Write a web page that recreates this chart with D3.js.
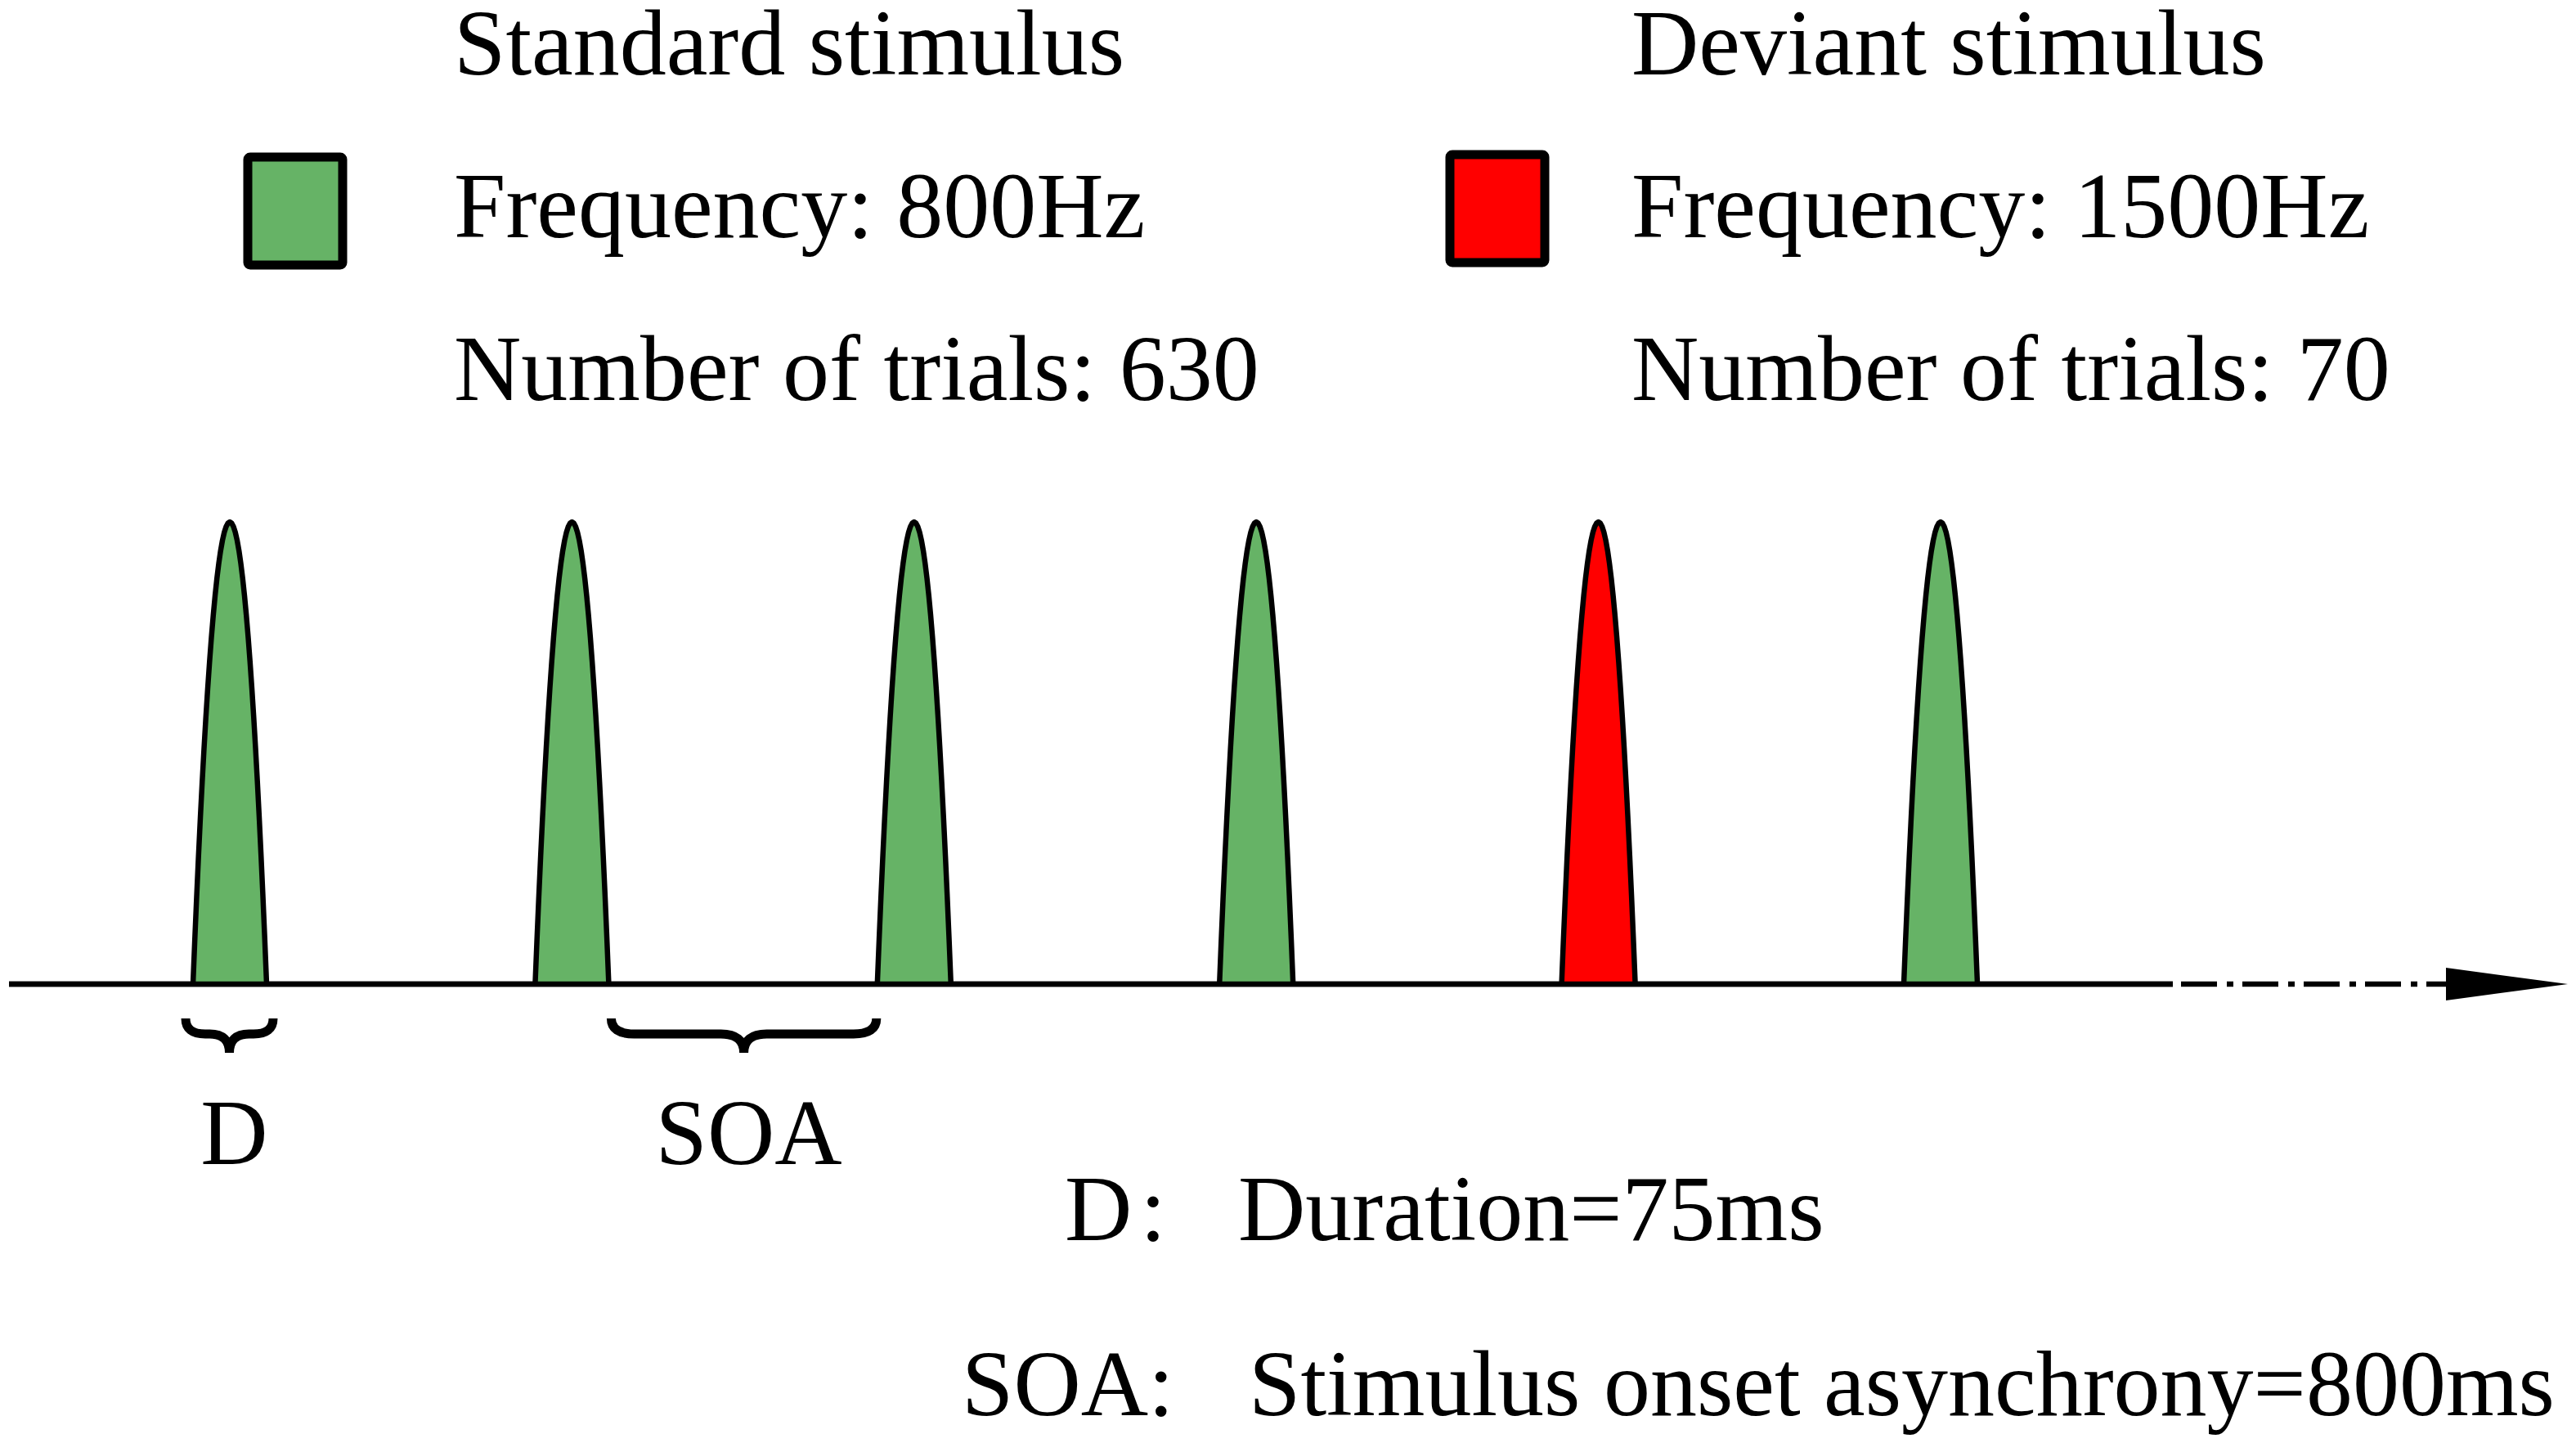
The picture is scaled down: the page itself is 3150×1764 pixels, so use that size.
<!DOCTYPE html>
<html>
<head>
<meta charset="utf-8">
<script src="https://cdn.jsdelivr.net/npm/d3@7"></script>
<style>
  body { margin: 0; background: #fff; }
  text { font-family: "Liberation Serif", "Times New Roman", serif; fill: #000; }
</style>
</head>
<body>
<svg id="chart" width="3150" height="1764"></svg>
<script>
// stimulus sequence shown on the timeline
const sequence = ["standard", "standard", "standard", "standard", "deviant", "standard"];
const stimTypes = ["standard", "deviant"];
const stimNames = ["Standard stimulus", "Deviant stimulus"];
const stimFreqs = ["800Hz", "1500Hz"];
const stimTrials = [630, 70];
const durationMs = 75;
const soaMs = 800;

const GREEN = "#66b366", RED = "#ff0000";
const FONT = 114;

const svg = d3.select("#chart");
svg.append("rect").attr("width", 3150).attr("height", 1764).attr("fill", "#fff");

const color = d3.scaleOrdinal().domain(stimTypes).range([GREEN, RED]);

// timeline scales: stimulus index -> x, amplitude -> y
const x = d3.scaleLinear().domain([0, sequence.length - 1]).range([281, 2373]);
const y = d3.scaleLinear().domain([0, 1]).range([1203, 638]);
const halfW = 45;

// legend
const legendX = [555, 1995];
const boxX = [303, 1773];
stimTypes.forEach((t, i) => {
    svg.append("rect")
        .attr("x", boxX[i]).attr("y", i ? 189 : 192)
        .attr("width", 116).attr("height", 132)
        .attr("rx", 3)
        .attr("fill", color(t))
        .attr("stroke", "#000")
        .attr("stroke-width", 11);
    const lines = [stimNames[i], `Frequency: ${stimFreqs[i]}`, `Number of trials: ${stimTrials[i]}`];
    lines.forEach((s, k) => {
        svg.append("text")
            .attr("x", legendX[i])
            .attr("y", 91 + k * 199)
            .style("font-size", FONT + "px")
            .text(s);
    });
});

// axis line: solid, then dash-dot, then arrow head
const axisY = y(0);
svg.append("line")
    .attr("x1", 11).attr("x2", 2995)
    .attr("y1", axisY).attr("y2", axisY)
    .attr("stroke", "#000").attr("stroke-width", 6.5)
    .attr("stroke-dasharray", "2646,10,44,12,8,11,44,12,8,11,44,12,8,11,44,12,8,11,44,12,8,11");
svg.append("path")
    .attr("d", `M2991,${axisY - 20}L3140,${axisY}L2991,${axisY + 20}Z`)
    .attr("fill", "#000");

// stimulus peaks (parabolic envelope)
const us = d3.range(-1, 1.0001, 0.05);
const peakLine = d3.line()
    .x(d => d.x)
    .y(d => d.y);

svg.selectAll(".peak")
    .data(sequence)
    .enter()
    .append("path")
    .attr("class", "peak")
    .attr("d", (t, i) => peakLine(us.map(u => ({ x: x(i) + u * halfW, y: y(1 - u * u) }))))
    .attr("fill", t => color(t))
    .attr("stroke", "#000")
    .attr("stroke-width", 6.5)
    .attr("stroke-linejoin", "round");

// redraw axis segment over peak bases
svg.append("line")
    .attr("x1", 11).attr("x2", 2657)
    .attr("y1", axisY).attr("y2", axisY)
    .attr("stroke", "#000").attr("stroke-width", 6.5);

// curly brace under a span
function brace(x1, x2, r) {
    const y0 = 1245, ym = 1264, yt = 1287, mid = (x1 + x2) / 2;
    return `M${x1},${y0}Q${x1},${ym} ${x1 + r},${ym}L${mid - r},${ym}Q${mid},${ym} ${mid},${yt}` +
        `Q${mid},${ym} ${mid + r},${ym}L${x2 - r},${ym}Q${x2},${ym} ${x2},${y0}`;
}

const braces = [
    { x1: x(0) - halfW - 9, x2: x(0) + halfW + 8, r: 24, label: "D" },
    { x1: x(1) + halfW + 3, x2: x(2) - halfW - 1, r: 28, label: "SOA" }
];
braces.forEach(b => {
    svg.append("path")
        .attr("d", brace(b.x1, b.x2, b.r))
        .attr("fill", "none")
        .attr("stroke", "#000")
        .attr("stroke-width", 11)
        .attr("stroke-linecap", "butt");
    svg.append("text")
        .attr("x", (b.x1 + b.x2) / 2 + 6)
        .attr("y", 1423)
        .attr("text-anchor", "middle")
        .style("font-size", FONT + "px")
        .text(b.label);
});

// definitions
const defs = [
    { key: "D", keyX: 1302, colonDx: 10, text: `Duration=${durationMs}ms`, textX: 1514, y: 1516 },
    { key: "SOA", keyX: 1176, colonDx: 0, text: `Stimulus onset asynchrony=${soaMs}ms`, textX: 1527, y: 1730 }
];
defs.forEach(d => {
    const t = svg.append("text").attr("x", d.keyX).attr("y", d.y).style("font-size", FONT + "px");
    t.append("tspan").text(d.key);
    t.append("tspan").attr("dx", d.colonDx).text(":");
    svg.append("text").attr("x", d.textX).attr("y", d.y).style("font-size", FONT + "px").text(d.text);
});
</script>
</body>
</html>
